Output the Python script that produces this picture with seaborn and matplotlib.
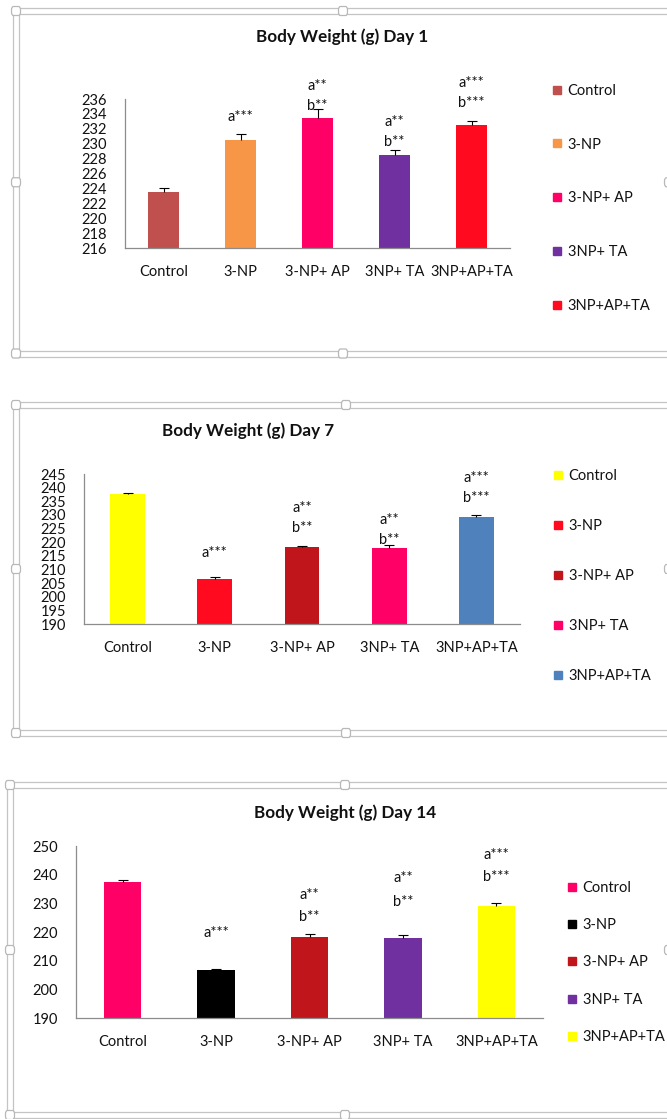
import matplotlib
matplotlib.use("Agg")
import matplotlib.pyplot as plt
import seaborn as sns
import pandas as pd
import numpy as np
from matplotlib.lines import Line2D
from matplotlib.patches import FancyBboxPatch

# ---------------- data ----------------
groups = ["Control", "3-NP", "3-NP+ AP", "3NP+ TA", "3NP+AP+TA"]

day1_mean = [223.5, 230.5, 233.5, 228.5, 232.5]
day1_sem = [0.5, 0.8, 1.1, 0.6, 0.6]
day1_sig = ["", "a***", "a**\nb**", "a**\nb**", "a***\nb***"]

day7_mean = [237.5, 206.7, 218.4, 218.0, 229.2]
day7_sem = [0.4, 0.7, 0.4, 1.1, 0.7]
day7_sig = ["", "a***", "a**\nb**", "a**\nb**", "a***\nb***"]

day14_mean = [237.5, 206.8, 218.4, 218.0, 229.2]
day14_sem = [0.5, 0.5, 1.0, 1.0, 0.9]
day14_sig = ["", "a***", "a**\nb**", "a**\nb**", "a***\nb***"]

day1_colors = ["#c0504d", "#f79646", "#ff0066", "#7030a0", "#ff0a1e"]
day7_colors = ["#ffff00", "#ff0a1e", "#c0151a", "#ff0066", "#4f81bd"]
day14_colors = ["#ff0066", "#000000", "#c0151a", "#7030a0", "#ffff00"]

# ---------------- style ----------------
sns.set_style("white")
plt.rcParams["font.family"] = ["Lato", "DejaVu Sans"]
TXT = "#111111"
AXC = "#8c8c8c"
FS = 10.5

W, H = 667, 1119
fig = plt.figure(figsize=(W / 100, H / 100), dpi=100)


def fx(x):
    return x / W


def fy(y):
    return 1 - y / H


def draw_frame(left, top, bottom, midx):
    """Selection-style double border with grab handles."""
    c = "#c4c4c4"
    right = 672
    for d in (-3, 3):
        fig.add_artist(Line2D([fx(left + d), fx(right)], [fy(top + d), fy(top + d)],
                              color=c, lw=0.9))
        fig.add_artist(Line2D([fx(left + d), fx(right)], [fy(bottom - d), fy(bottom - d)],
                              color=c, lw=0.9))
        fig.add_artist(Line2D([fx(left + d), fx(left + d)], [fy(top + d), fy(bottom - d)],
                              color=c, lw=0.9))
    midy = (top + bottom) / 2
    s = 9
    for hx, hy in [(left, top), (midx, top), (left, midy), (left, bottom),
                   (midx, bottom), (669, midy)]:
        fig.add_artist(FancyBboxPatch((fx(hx - s / 2), fy(hy + s / 2)), s / W, s / H,
                                      boxstyle="round,pad=0,rounding_size=0.003",
                                      transform=fig.transFigure, facecolor="white",
                                      edgecolor="#b8b8b8", lw=0.9, zorder=5))


def panel(rect, means, sems, colors, sig, lifts, gaps, yticks, title, title_xy,
          leg_x, leg_cy, leg_space):
    l, t, r, b = rect
    ax = fig.add_axes([fx(l), fy(b), (r - l) / W, (b - t) / H])
    df = pd.DataFrame({"group": groups, "weight": means})
    sns.barplot(data=df, x="group", y="weight", hue="group", palette=colors,
                width=0.4, saturation=1, legend=False, ax=ax, linewidth=0)
    x = np.arange(len(groups))
    eb = ax.errorbar(x, means, yerr=[np.zeros(len(sems)), sems], fmt="none",
                     ecolor="black", elinewidth=0.8, capsize=3.5, capthick=0.8,
                     zorder=4)
    eb[1][0].set_visible(False)

    ax.set_ylim(yticks[0], yticks[-1])
    ax.set_yticks(yticks)
    ax.set_xlim(-0.5, len(groups) - 0.5)
    ax.set_xlabel("")
    ax.set_ylabel("")
    for s in ("top", "right"):
        ax.spines[s].set_visible(False)
    for s in ("left", "bottom"):
        ax.spines[s].set_color(AXC)
        ax.spines[s].set_linewidth(0.9)
    ax.set_xticks(x)
    ax.set_xticklabels(groups)
    ax.set_xticks(np.arange(-0.5, len(groups)), minor=True)
    ax.tick_params(axis="x", which="major", length=0, pad=12, labelsize=FS,
                   labelcolor=TXT)
    ax.tick_params(axis="x", which="minor", length=5, width=0.9, color=AXC,
                   direction="out")
    ax.tick_params(axis="y", length=4, width=0.9, color=AXC, direction="out",
                   pad=9, labelsize=FS, labelcolor=TXT)
    ax.grid(False)

    # significance letters above bars
    for i, txt in enumerate(sig):
        if not txt:
            continue
        lines = txt.split("\n")[::-1]
        for k, line in enumerate(lines):
            ax.annotate(line, (i, means[i]), xytext=(0, lifts[i] + k * gaps[i]),
                        textcoords="offset pixels", ha="center", va="center",
                        fontsize=FS, color=TXT, annotation_clip=False)

    fig.text(fx(title_xy[0]), fy(title_xy[1]), title, ha="center", va="center",
             fontsize=12.3, fontweight="bold", color=TXT)

    handles = [Line2D([], [], marker="s", linestyle="", markersize=6,
                      markerfacecolor=c, markeredgecolor=c) for c in colors]
    spacing = (leg_space / (FS * 100 / 72)) - 0.93
    ax.legend(handles, groups, loc="center left",
              bbox_to_anchor=(fx(leg_x), fy(leg_cy)), bbox_transform=fig.transFigure,
              frameon=False, fontsize=FS, labelspacing=spacing, handlelength=0.6,
              handletextpad=0.4, borderpad=0, borderaxespad=0, labelcolor=TXT)
    return ax


# frames
draw_frame(16, 11, 353.5, 343)
draw_frame(16, 405, 733, 346)
draw_frame(10, 785, 1115, 345)

panel((125, 99, 510, 248), day1_mean, day1_sem, day1_colors, day1_sig,
      [0, 23, 12, 13, 22], [0, 20, 20, 20, 20], list(range(216, 237, 2)),
      "Body Weight (g) Day 1", (342, 37), 553, 198.5, 53.5)

panel((84, 474, 520, 624.3), day7_mean, day7_sem, day7_colors, day7_sig,
      [0, 26, 19, 8, 19], [0, 20, 20, 20, 20], list(range(190, 246, 5)),
      "Body Weight (g) Day 7", (248, 431), 554, 576, 49.5)

panel((76, 846, 543, 1018.3), day14_mean, day14_sem, day14_colors, day14_sig,
      [0, 37, 20, 36, 29], [0, 22, 22, 24, 22], list(range(190, 251, 10)),
      "Body Weight (g) Day 14", (345, 813), 568, 962.5, 37)

fig.savefig("out.png", dpi=100, facecolor="white")
